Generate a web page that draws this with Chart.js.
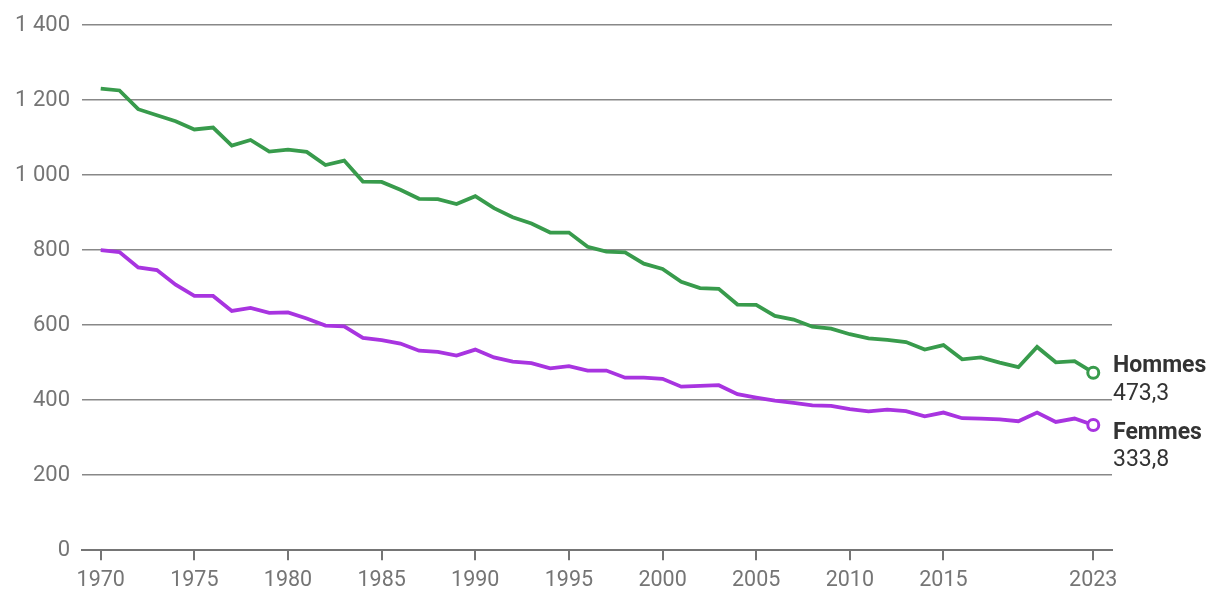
<!DOCTYPE html>
<html>
<head>
<meta charset="utf-8">
<script src="https://cdn.jsdelivr.net/npm/chart.js@4"></script>
<style>
  html, body { margin: 0; padding: 0; background: #ffffff; }
  #wrap { width: 1220px; height: 610px; position: relative; }
</style>
</head>
<body>
<div id="wrap"><canvas id="c"></canvas></div>
<script>
const years = [1970,1971,1972,1973,1974,1975,1976,1977,1978,1979,
               1980,1981,1982,1983,1984,1985,1986,1987,1988,1989,
               1990,1991,1992,1993,1994,1995,1996,1997,1998,1999,
               2000,2001,2002,2003,2004,2005,2006,2007,2008,2009,
               2010,2011,2012,2013,2014,2015,2016,2017,2018,2019,
               2020,2021,2022,2023];
const hommes = [1231,1226,1176,1160,1144,1122,1127,1079,1094,1063,
                1068,1062,1027,1039,983,982,961,937,936,923,
                944,912,888,871,847,847,809,796,794,764,
                750,716,699,697,655,654,625,615,596,591,
                576,565,561,555,535,547,509,514,500,488,
                542,501,504,473.3];
const femmes = [800,795,754,747,708,678,678,638,646,633,
                634,618,599,597,566,560,551,532,529,519,
                535,514,503,499,485,491,479,479,460,460,
                457,436,438,440,416,407,399,393,386,385,
                376,370,375,371,357,367,352,351,349,344,
                367,342,351,333.8];
const seriesNames = ["Hommes", "Femmes"];
const xTicks = [1970,1975,1980,1985,1990,1995,2000,2005,2010,2015,2023];
const yTicks = [0,200,400,600,800,1000,1200,1400];

const FONT = "Roboto";
const GREEN = "#389b4c";
const PURPLE = "#a834e0";

function pts(vals) { return years.map((y, i) => ({ x: y, y: vals[i] })); }
function fmtNum(v) {
  const s = String(Math.round(v));
  return s.replace(/\B(?=(\d{3})+(?!\d))/g, " ");
}
function fmtDec(v) { return v.toFixed(1).replace(".", ","); }

const lastIdx = years.length - 1;

const endLabels = {
  id: "endLabels",
  afterDatasetsDraw(chart) {
    const ctx = chart.ctx;
    const area = chart.chartArea;
    chart.data.datasets.forEach((ds, di) => {
      const meta = chart.getDatasetMeta(di);
      const p = meta.data[lastIdx];
      if (!p) return;
      const x = area.right + 1;
      ctx.save();
      ctx.textAlign = "left";
      ctx.textBaseline = "middle";
      ctx.fillStyle = "#333333";
      ctx.font = "bold 23px " + FONT;
      ctx.fillText(ds.label, x, p.y + ds.nameOffset);
      ctx.font = "23px " + FONT;
      ctx.fillText(fmtDec(ds.data[lastIdx].y), x, p.y + ds.valueOffset);
      ctx.restore();
    });
  }
};

const mkDs = (label, vals, color, nameOffset, valueOffset) => ({
  label,
  data: pts(vals),
  borderColor: color,
  backgroundColor: color,
  borderWidth: 3.8,
  tension: 0,
  pointRadius: c => c.dataIndex === lastIdx ? 5.5 : 0,
  pointHoverRadius: c => c.dataIndex === lastIdx ? 5.5 : 0,
  pointBackgroundColor: "#ffffff",
  pointBorderColor: color,
  pointBorderWidth: 3,
  nameOffset, valueOffset
});

new Chart(document.getElementById("c"), {
  type: "line",
  data: {
    datasets: [
      mkDs(seriesNames[0], hommes, GREEN, -6, 22),
      mkDs(seriesNames[1], femmes, PURPLE, 8, 35)
    ]
  },
  options: {
    responsive: true,
    maintainAspectRatio: false,
    animation: false,
    devicePixelRatio: 1,
    layout: { padding: { top: 12, right: 108, bottom: 8, left: 0 } },
    plugins: { legend: { display: false }, tooltip: { enabled: false } },
    scales: {
      x: {
        type: "linear",
        min: 1969,
        max: 2024,
        afterBuildTicks: s => { s.ticks = xTicks.map(v => ({ value: v })); },
        ticks: {
          autoSkip: false,
          maxRotation: 0,
          color: "#757575",
          font: { family: FONT, size: 21.5 },
          padding: 8,
          callback: v => String(v)
        },
        grid: {
          drawOnChartArea: false,
          drawTicks: true,
          tickLength: 10,
          color: "#757575",
          lineWidth: 2
        },
        border: { display: true, color: "#757575", width: 2 }
      },
      y: {
        min: 0,
        max: 1400,
        afterBuildTicks: s => { s.ticks = yTicks.map(v => ({ value: v })); },
        afterFit: s => { s.width = 82; },
        ticks: {
          color: "#757575",
          font: { family: FONT, size: 22 },
          padding: 12,
          callback: v => fmtNum(v)
        },
        grid: {
          drawTicks: false,
          color: "#888888",
          lineWidth: 1.5
        },
        border: { display: false }
      }
    }
  },
  plugins: [endLabels]
});
</script>
</body>
</html>
